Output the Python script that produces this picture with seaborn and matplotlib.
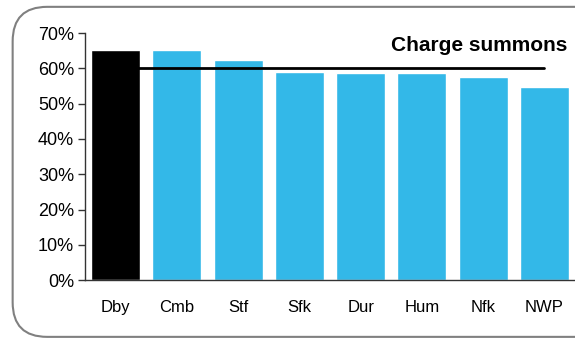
import matplotlib
matplotlib.use("Agg")
import matplotlib.pyplot as plt
import seaborn as sns
import pandas as pd
from matplotlib.patches import FancyBboxPatch
from matplotlib.ticker import PercentFormatter

# data
forces = ['Dby', 'Cmb', 'Stf', 'Sfk', 'Dur', 'Hum', 'Nfk', 'NWP']
values = [65.2, 65.1, 62.3, 59.0, 58.6, 58.6, 57.5, 54.7]
target = 60.0

df = pd.DataFrame({'Force': forces, 'Value': values})
colours = ['#000000'] + ['#33b8e8'] * (len(forces) - 1)

sns.set_theme(style='white')
plt.rcParams['font.family'] = ['Liberation Sans', 'DejaVu Sans']
plt.rcParams['text.color'] = 'black'
plt.rcParams['xtick.color'] = 'black'
plt.rcParams['ytick.color'] = 'black'

fig = plt.figure(figsize=(5.75, 3.42), dpi=100)

# rounded frame around the chart, behind the axes
frame = FancyBboxPatch((0.022, 0.015), 1.2, 0.965, boxstyle='round,pad=0,rounding_size=0.06',
                       transform=fig.transFigure, facecolor='white', edgecolor='#808080',
                       linewidth=1.5, mutation_aspect=575 / 342, zorder=-1)
fig.patches.append(frame)

ax = fig.add_axes([0.148, 0.181, 0.852, 0.722])
ax.patch.set_alpha(0)
sns.barplot(data=df, x='Force', y='Value', hue='Force', palette=colours, legend=False,
            width=0.8, saturation=1, ax=ax)

# target line across bar centres
ax.plot([0, len(forces) - 1], [target, target], color='black', linewidth=2, zorder=5)

ax.set_ylim(0, 70)
ax.set_xlim(-0.5, len(forces) - 0.5)
ax.set_yticks(range(0, 71, 10))
ax.yaxis.set_major_formatter(PercentFormatter(decimals=0))
ax.set_xlabel('')
ax.set_ylabel('')
ax.tick_params(axis='y', left=True, length=5, width=1, color='#333333', labelsize=13, pad=3)
ax.tick_params(axis='x', bottom=False, labelsize=12, pad=8)
for s in ['top', 'right']:
    ax.spines[s].set_visible(False)
for s in ['left', 'bottom']:
    ax.spines[s].set_color('#333333')
    ax.spines[s].set_linewidth(1)

fig.text(0.987, 0.868, 'Charge summons', ha='right', va='center', fontsize=15, fontweight='bold')

fig.savefig('out.png', dpi=100)
